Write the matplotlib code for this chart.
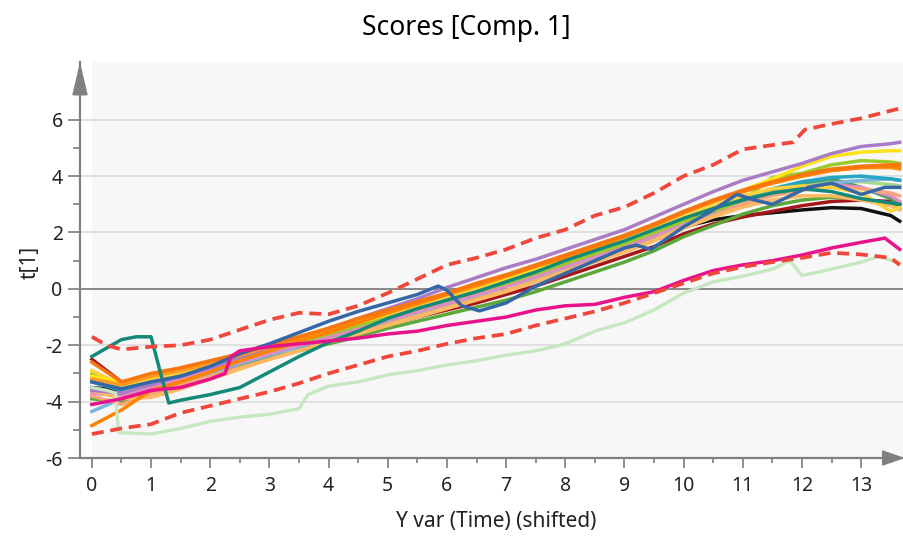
import matplotlib.pyplot as plt
from matplotlib.patches import Polygon
from matplotlib.ticker import MultipleLocator, FixedLocator

plt.rcParams['font.family'] = ['Noto Sans', 'DejaVu Sans']
plt.rcParams['axes.unicode_minus'] = False

# common time grid for the bulk of the batches
t = [0, 0.5, 1, 1.5, 2, 2.5, 3, 3.5, 4, 4.5, 5, 5.5, 6, 6.5, 7, 7.5, 8, 8.5, 9, 9.5,
     10, 10.5, 11, 11.5, 12, 12.5, 13, 13.5, 13.65]

b_green = [-3.9, -4.0, -3.7, -3.4, -3.1, -2.75, -2.45, -2.2, -1.95, -1.7, -1.4, -1.15, -0.9, -0.65,
           -0.4, -0.1, 0.25, 0.6, 0.95, 1.35, 1.85, 2.25, 2.65, 2.95, 3.15, 3.25, 3.2, 3.0, 2.85]
b_lightgreen = [-3.3, -3.5, -3.3, -3.05, -2.8, -2.5, -2.2, -1.9, -1.6, -1.3, -1.0, -0.7, -0.4, -0.1,
                0.2, 0.5, 0.85, 1.2, 1.55, 1.95, 2.4, 2.8, 3.15, 3.45, 3.65, 3.8, 3.8, 3.7, 3.65]
b_midgreen = [-3.6, -3.75, -3.45, -3.15, -2.85, -2.55, -2.25, -1.95, -1.65, -1.35, -1.05, -0.8, -0.5, -0.2,
              0.1, 0.4, 0.75, 1.1, 1.45, 1.85, 2.3, 2.7, 3.05, 3.4, 3.75, 3.9, 3.6, 3.2, 3.0]
b_lightblue = [-4.35, -3.9, -3.6, -3.3, -3.0, -2.65, -2.35, -2.05, -1.75, -1.45, -1.15, -0.85, -0.55, -0.25,
               0.1, 0.4, 0.75, 1.1, 1.45, 1.85, 2.3, 2.7, 3.05, 3.35, 3.6, 3.75, 3.85, 3.9, 3.85]
b_cyan = [-3.3, -3.6, -3.35, -3.1, -2.8, -2.5, -2.2, -1.9, -1.6, -1.3, -1.0, -0.7, -0.4, -0.1,
          0.25, 0.55, 0.9, 1.25, 1.6, 2.0, 2.45, 2.85, 3.25, 3.55, 3.8, 3.95, 4.0, 3.9, 3.85]
b_pink = [-3.7, -3.8, -3.5, -3.2, -2.9, -2.6, -2.3, -2.0, -1.7, -1.4, -1.1, -0.8, -0.5, -0.2,
          0.1, 0.45, 0.8, 1.15, 1.5, 1.9, 2.35, 2.75, 3.1, 3.4, 3.6, 3.7, 3.6, 3.3, 3.1]
b_salmon = [-3.8, -4.1, -3.75, -3.4, -3.1, -2.8, -2.5, -2.2, -1.85, -1.55, -1.25, -0.95, -0.65, -0.35,
            -0.05, 0.3, 0.65, 1.0, 1.35, 1.75, 2.2, 2.6, 3.0, 3.3, 3.5, 3.6, 3.55, 3.4, 3.3]
b_lightorange = [-3.6, -3.9, -3.85, -3.55, -3.2, -2.85, -2.5, -2.2, -1.9, -1.6, -1.3, -1.0, -0.7, -0.4,
                 -0.1, 0.25, 0.6, 0.95, 1.3, 1.7, 2.15, 2.55, 2.9, 3.15, 3.3, 3.3, 3.15, 2.95, 2.8]
b_darkred = [-2.5, -3.3, -3.4, -3.2, -2.9, -2.6, -2.3, -2.05, -1.8, -1.55, -1.3, -1.0, -0.75, -0.5,
             -0.2, 0.1, 0.45, 0.8, 1.15, 1.5, 1.95, 2.3, 2.55, 2.75, 2.95, 3.1, 3.15, 3.1, 3.0]
b_black = [-3.5, -3.6, -3.3, -3.05, -2.8, -2.5, -2.2, -1.9, -1.6, -1.3, -1.0, -0.7, -0.45, -0.15,
           0.15, 0.45, 0.8, 1.1, 1.45, 1.8, 2.2, 2.45, 2.6, 2.7, 2.8, 2.88, 2.85, 2.6, 2.4]
b_lime = [-3.0, -3.5, -3.3, -3.0, -2.75, -2.5, -2.2, -1.9, -1.6, -1.3, -1.0, -0.7, -0.4, -0.1,
          0.2, 0.55, 0.9, 1.25, 1.6, 2.0, 2.4, 2.75, 3.15, 3.95, 4.1, 4.4, 4.55, 4.5, 4.45]
b_yellow = [-2.9, -3.4, -3.2, -2.95, -2.7, -2.4, -2.1, -1.8, -1.5, -1.2, -0.9, -0.6, -0.3, 0.0,
            0.35, 0.65, 1.0, 1.35, 1.7, 2.1, 2.55, 2.95, 3.3, 3.55, 3.65, 3.6, 3.4, 2.75, 2.9]
b_gold = [-3.1, -3.3, -3.1, -2.85, -2.6, -2.3, -2.0, -1.7, -1.4, -1.1, -0.8, -0.5, -0.2, 0.1,
          0.4, 0.75, 1.1, 1.45, 1.85, 2.25, 2.7, 3.1, 3.5, 3.9, 4.35, 4.7, 4.85, 4.9, 4.9]
b_purple = [-3.6, -3.7, -3.4, -3.1, -2.8, -2.45, -2.1, -1.75, -1.4, -1.05, -0.7, -0.35, 0.05, 0.4,
            0.75, 1.05, 1.4, 1.75, 2.1, 2.55, 3.0, 3.45, 3.85, 4.15, 4.45, 4.8, 5.05, 5.15, 5.2]
b_orange3 = [-3.2, -3.4, -3.1, -2.9, -2.65, -2.35, -2.05, -1.75, -1.45, -1.15, -0.85, -0.55, -0.2, 0.1,
             0.45, 0.8, 1.15, 1.5, 1.85, 2.25, 2.7, 3.1, 3.45, 3.75, 4.0, 4.2, 4.3, 4.3, 4.25]
b_orange2 = [-4.85, -4.3, -3.6, -3.3, -2.95, -2.55, -2.2, -1.85, -1.55, -1.2, -0.85, -0.5, -0.2, 0.15,
             0.45, 0.8, 1.1, 1.45, 1.85, 2.25, 2.7, 3.1, 3.45, 3.75, 4.0, 4.2, 4.3, 4.35, 4.3]
b_orange = [-2.6, -3.3, -3.0, -2.8, -2.55, -2.3, -2.0, -1.7, -1.4, -1.05, -0.75, -0.45, -0.15, 0.2,
            0.5, 0.85, 1.2, 1.55, 1.9, 2.3, 2.75, 3.15, 3.5, 3.8, 4.05, 4.25, 4.35, 4.4, 4.4]

# batches that stand out from the bundle, each with its own time points
blue_x = [0, 0.5, 1, 1.5, 2, 2.5, 3, 3.5, 4, 4.5, 5, 5.5, 5.85, 6.0, 6.25, 6.55, 7, 7.5, 8, 8.5, 9,
          9.2, 9.45, 10, 10.5, 10.9, 11.2, 11.5, 11.8, 12.1, 12.5, 13, 13.4, 13.65]
blue_y = [-3.3, -3.55, -3.3, -3.1, -2.75, -2.3, -1.95, -1.55, -1.15, -0.8, -0.5, -0.2, 0.1, -0.05, -0.6,
          -0.78, -0.5, 0.1, 0.55, 1.0, 1.45, 1.55, 1.4, 2.2, 2.8, 3.35, 3.15, 3.0, 3.3, 3.6, 3.75, 3.35,
          3.6, 3.6]
teal_x = [0, 0.25, 0.5, 0.75, 1.0, 1.15, 1.3, 1.5, 2, 2.5, 3, 3.5, 4, 4.5, 5, 5.5, 6, 6.5, 7, 7.5,
          8, 8.5, 9, 9.5, 10, 10.5, 11, 11.5, 12, 12.5, 13, 13.65]
teal_y = [-2.4, -2.1, -1.8, -1.7, -1.7, -2.9, -4.05, -3.95, -3.75, -3.5, -2.95, -2.4, -1.9, -1.5, -1.05,
          -0.7, -0.4, -0.1, 0.25, 0.6, 1.0, 1.35, 1.7, 2.1, 2.5, 2.85, 3.15, 3.4, 3.55, 3.45, 3.2, 3.0]
magenta_x = [0, 0.5, 1, 1.5, 2, 2.25, 2.35, 2.5, 3, 3.5, 4, 4.5, 5, 5.5, 6, 6.5, 7, 7.5, 8, 8.5, 9,
             9.5, 10, 10.5, 11, 11.5, 12, 12.5, 13, 13.4, 13.65]
magenta_y = [-4.1, -3.9, -3.6, -3.5, -3.2, -3.0, -2.4, -2.2, -2.05, -1.95, -1.85, -1.75, -1.6, -1.5,
             -1.3, -1.15, -1.0, -0.75, -0.6, -0.55, -0.3, -0.1, 0.3, 0.65, 0.85, 1.0, 1.2, 1.45, 1.65,
             1.8, 1.4]
pale_x = [0, 0.25, 0.4, 0.45, 0.5, 1, 1.5, 2, 2.5, 3, 3.5, 3.65, 4, 4.5, 5, 5.5, 6, 6.5, 7, 7.5, 8,
          8.5, 9, 9.5, 10, 10.5, 11, 11.5, 11.8, 12, 12.5, 13, 13.3, 13.65]
pale_y = [-3.5, -3.6, -3.7, -5.1, -5.1, -5.15, -4.95, -4.7, -4.55, -4.45, -4.25, -3.75, -3.45, -3.3,
          -3.05, -2.9, -2.7, -2.55, -2.35, -2.2, -1.95, -1.5, -1.2, -0.75, -0.15, 0.25, 0.45, 0.7,
          1.0, 0.47, 0.7, 0.95, 1.15, 0.9]

# control limits
upper_x = [0, 0.25, 0.5, 1, 1.5, 2, 2.5, 3, 3.5, 4, 4.5, 5, 5.5, 6, 6.5, 7, 7.5, 8, 8.5, 9, 9.5,
           10, 10.5, 11, 11.5, 11.85, 12.05, 12.5, 13, 13.65]
upper_y = [-1.7, -2.0, -2.15, -2.05, -2.0, -1.8, -1.45, -1.1, -0.85, -0.9, -0.6, -0.15, 0.35, 0.85,
           1.1, 1.4, 1.8, 2.1, 2.6, 2.9, 3.4, 4.0, 4.4, 4.95, 5.1, 5.2, 5.65, 5.85, 6.05, 6.4]
lower_x = t
lower_y = [-5.15, -4.95, -4.8, -4.4, -4.15, -3.9, -3.65, -3.35, -3.0, -2.7, -2.4, -2.2, -1.95, -1.75,
           -1.6, -1.3, -1.05, -0.8, -0.5, -0.15, 0.2, 0.55, 0.78, 0.95, 1.1, 1.28, 1.22, 1.1, 0.85]

# drawing order: first entries end up underneath
bundle = [
    (b_black, '#111111'), (b_darkred, '#A5161B'),
    (b_green, '#5DA83A'), (b_lightgreen, '#A8D888'), (b_midgreen, '#4E9E62'),
    (b_lightblue, '#7DB4E0'), (b_cyan, '#22A6C2'), (b_pink, '#E58AC0'),
    (b_salmon, '#F6A57C'), (b_lightorange, '#FDBA62'),
    (b_lime, '#9BCB2A'), (b_yellow, '#FFD23A'),
    (b_gold, '#FFE21A'), (b_purple, '#A97CC6'), (b_orange3, '#FF9A1F'),
    (b_orange2, '#FF8300'), (b_orange, '#F7760F'),
]

fig = plt.figure(figsize=(9.04, 5.36), dpi=100)
ax = fig.add_axes([0.0885, 0.1455, 0.910, 0.739])
ax.set_xlim(-0.2, 13.7)
ax.set_ylim(-6, 8.05)
ax.axvspan(0, 13.7, color='#F7F7F7', lw=0, zorder=0)

for yv in [-4, -2, 2, 4, 6]:
    ax.axhline(yv, color='#DEDEDE', lw=1.3, zorder=1)
ax.axhline(0, color='#7F7F7F', lw=1.3, zorder=1)

for ys, c in bundle:
    ax.plot(t, ys, color=c, lw=2.5, zorder=2)

ax.plot(pale_x, pale_y, color='#C5E8C0', lw=2.4, zorder=3)
ax.plot(teal_x, teal_y, color='#138A78', lw=2.5, zorder=3)
ax.plot(blue_x, blue_y, color='#3567A8', lw=2.5, zorder=3)
ax.plot(magenta_x, magenta_y, color='#E8128C', lw=2.5, zorder=3)

ax.plot(upper_x, upper_y, color='#F0473C', lw=2.7, ls=(0, (3.2, 1.8)), zorder=4)
ax.plot(lower_x, lower_y, color='#F0473C', lw=2.7, ls=(0, (3.2, 1.8)), zorder=4)

for s in ['top', 'right']:
    ax.spines[s].set_visible(False)
for s in ['left', 'bottom']:
    ax.spines[s].set_color('#808080')
    ax.spines[s].set_linewidth(1.6)

ax.set_xticks(range(0, 14))
ax.xaxis.set_minor_locator(MultipleLocator(0.5))
ax.set_yticks(range(-6, 7, 2))
ax.yaxis.set_minor_locator(FixedLocator([-5, -3, -1, 1, 3, 5]))
ax.tick_params(axis='x', which='major', length=7, width=1.1, color='#707070',
               labelsize=14, labelcolor='#222222', pad=6)
ax.tick_params(axis='x', which='minor', length=3.6, width=1.1, color='#707070')
ax.tick_params(axis='y', which='major', length=8.5, width=1.1, color='#707070',
               labelsize=14, labelcolor='#222222', pad=4)
ax.tick_params(axis='y', which='minor', length=5, width=1.1, color='#707070')

# arrow heads on the axes
ax.add_patch(Polygon([[-0.0085, 0.917], [0.0085, 0.917], [0, 0.992]], closed=True,
                     transform=ax.transAxes, clip_on=False, color='#808080', zorder=6))
ax.add_patch(Polygon([[0.9757, -0.0177], [0.9757, 0.0177], [1.0, 0]], closed=True,
                     transform=ax.transAxes, clip_on=False, color='#808080', zorder=6))

fig.text(466 / 904, 1 - 28 / 536, 'Scores [Comp. 1]', ha='center', va='center', fontsize=19)
fig.text(496 / 904, 1 - 522 / 536, 'Y var (Time) (shifted)', ha='center', va='center',
         fontsize=15, color='#222222')
fig.text(30 / 904, 1 - 262 / 536, 't[1]', ha='center', va='center', rotation=90,
         fontsize=15, color='#222222')

fig.savefig('out.png', dpi=100)
